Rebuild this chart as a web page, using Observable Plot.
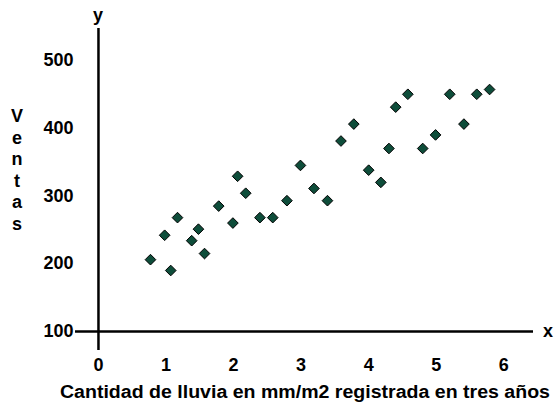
<!DOCTYPE html>
<html>
<head>
<meta charset="utf-8">
<script src="https://cdn.jsdelivr.net/npm/d3@7"></script>
<script src="https://cdn.jsdelivr.net/npm/@observablehq/plot@0.6"></script>
<style>
  html, body { margin: 0; padding: 0; background: #fff; }
  #chart { position: relative; width: 557px; height: 403px; }
  #chart svg { position: absolute; left: 0; top: 0; }
</style>
</head>
<body>
<div id="chart"></div>
<script>
const lluvia = [0.77, 0.98, 1.07, 1.17, 1.38, 1.48, 1.57, 1.78, 1.99, 2.06, 2.18, 2.39, 2.58, 2.79, 2.99, 3.19, 3.39, 3.59, 3.78, 4.0, 4.18, 4.30, 4.40, 4.58, 4.80, 4.99, 5.20, 5.41, 5.60, 5.79];
const ventas = [206, 242, 190, 268, 234, 251, 215, 285, 260, 329, 304, 268, 268, 293, 345, 311, 293, 381, 406, 338, 320, 370, 431, 450, 370, 390, 450, 406, 450, 457];
const xTicks = [0, 1, 2, 3, 4, 5, 6];
const yTicks = [100, 200, 300, 400, 500];
const yLetters = ["V", "e", "n", "t", "a", "s"];
const xTitle = "Cantidad de lluvia en mm/m2 registrada en tres años";

const data = lluvia.map((x, i) => ({x, y: ventas[i]}));
const font = "'Liberation Sans', Arial, sans-serif";

const plot = Plot.plot({
  width: 557,
  height: 403,
  marginLeft: 75,
  marginRight: 24,
  marginTop: 28,
  marginBottom: 53,
  style: {fontFamily: font, fontWeight: "bold", fontSize: "18px", background: "white", color: "black"},
  x: {domain: [-0.34, 6.44]},
  y: {domain: [72, 547]},
  marks: [
    Plot.axisX({ticks: xTicks, tickFormat: "d", tickSize: 0, tickPadding: 8, label: null, fontWeight: "bold", fontSize: 18}),
    Plot.axisY({ticks: yTicks, tickFormat: "d", tickSize: 0, tickPadding: 2, label: null, fontWeight: "bold", fontSize: 18}),
    Plot.ruleY([100], {stroke: "black", strokeWidth: 2.5}),
    Plot.ruleX([0], {stroke: "black", strokeWidth: 2.5}),
    Plot.dot(data, {x: "x", y: "y", symbol: "diamond2", r: 4.8, fill: "#0e4d3a", stroke: "black", strokeWidth: 1})
  ]
});
document.getElementById("chart").appendChild(plot);

// axis name labels placed from the plot's scales
const sx = plot.scale("x"), sy = plot.scale("y");
const svg = d3.select(plot);
const g = svg.append("g").attr("font-family", font).attr("font-weight", "bold").attr("font-size", 18).attr("fill", "black");
g.append("text").attr("x", sx.apply(0)).attr("y", sy.range[1] - 7).attr("text-anchor", "middle").text("y");
g.append("text").attr("x", sx.range[1] + 15).attr("y", sy.apply(100)).attr("dy", "0.32em").attr("text-anchor", "middle").text("x");
g.append("text").attr("x", 60).attr("y", 398).attr("text-anchor", "start")
  .attr("textLength", 490).attr("lengthAdjust", "spacingAndGlyphs").text(xTitle);
g.selectAll(".yl").data(yLetters).join("text")
  .attr("x", 17).attr("y", (d, i) => 116 + i * 21.5).attr("dy", "0.35em")
  .attr("text-anchor", "middle").text(d => d);
</script>
</body>
</html>
